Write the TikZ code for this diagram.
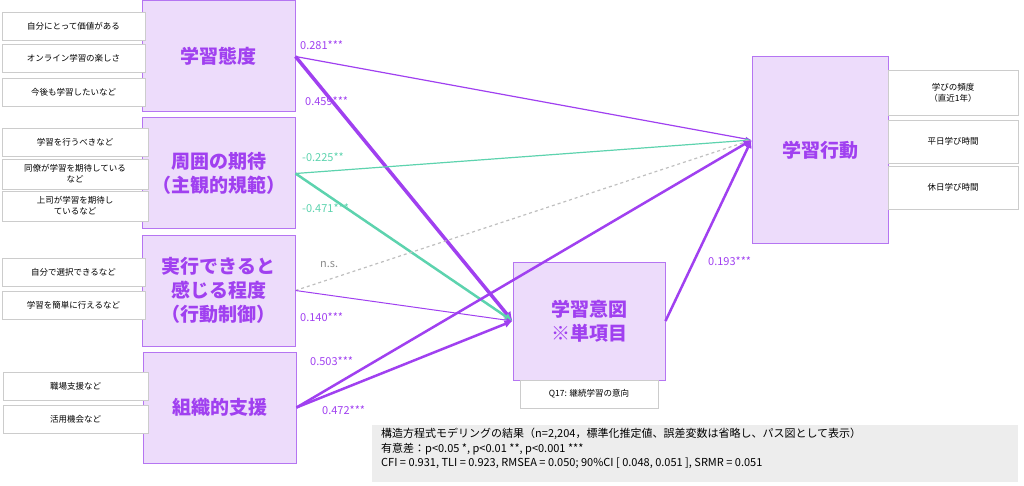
\documentclass[tikz,border=0pt]{standalone}
\usepackage{fontspec}
\setmainfont{Noto Sans CJK JP}
\newfontfamily\jpbold[BoldFont={Noto Sans CJK JP Bold}]{Noto Sans CJK JP}
\usetikzlibrary{arrows.meta, positioning}
\definecolor{vio}{HTML}{A040F0}
\definecolor{lav}{HTML}{EDDCFB}
\definecolor{lavline}{HTML}{B575F2}
\definecolor{teal}{HTML}{5DD3AE}
\tikzset{
  factor/.style={draw=lavline,fill=lav,line width=1pt,minimum width=153pt,minimum height=111pt,
    font=\fontsize{19}{24}\selectfont\bfseries,text=vio,align=center},
  item/.style={draw=black!20,fill=white,minimum width=143pt,minimum height=28pt,
    font=\fontsize{8.5}{11}\selectfont,align=center,inner sep=1pt},
  coef/.style={font=\fontsize{11}{13}\selectfont,text=vio,anchor=south west,inner sep=0pt},
  path/.style={-{Latex[length=7pt,width=7pt]},vio},
}
\begin{document}
\begin{tikzpicture}[x=1pt,y=-1pt,>=latex]
    \useasboundingbox (0,0) rectangle (1024,486);
    % factors
    \node[factor] (att) at (218.5,56.5) {学習態度};
    \node[factor] (norm) at (218.5,173.5) {周囲の期待\\（主観的規範）};
    \node[factor] (ctrl) at (218.5,290.5) {実行できると\\感じる程度\\（行動制御）};
    \node[factor] (supp) at (219.5,407.5) {組織的支援};
    \node[factor,minimum width=152pt,minimum height=118pt] (intent) at (589,321) {学習意図\\※単項目};
    \node[factor,minimum width=136pt,minimum height=186pt] (act) at (820,150) {学習行動};
    \node[item,minimum width=138pt] (q17) at (589,394) {Q17: 継続学習の意向};
    % items
    \node[item] (a1) at (73.5,26) {自分にとって価値がある};
    \node[item] (a2) at (73.5,58.5) {オンライン学習の楽しさ};
    \node[item] (a3) at (73.5,92) {今後も学習したいなど};
    \node[item,minimum width=146pt] (n1) at (75,142) {学習を行うべきなど};
    \node[item,minimum width=146pt,minimum height=30pt] (n2) at (75,174) {同僚が学習を期待している\\など};
    \node[item,minimum width=146pt,minimum height=30pt] (n3) at (75,206) {上司が学習を期待し\\ているなど};
    \node[item] (c1) at (73.5,272.5) {自分で選択できるなど};
    \node[item] (c2) at (73.5,305) {学習を簡単に行えるなど};
    \node[item,minimum width=145pt] (s1) at (75.5,386.5) {職場支援など};
    \node[item,minimum width=145pt] (s2) at (75.5,419.5) {活用機会など};
    \node[item,minimum width=130pt,minimum height=45pt] (b1) at (953,92.5) {学びの頻度\\（直近1年）};
    \node[item,minimum width=130pt,minimum height=43pt] (b2) at (953,141.5) {平日学び時間};
    \node[item,minimum width=130pt,minimum height=43pt] (b3) at (953,187.5) {休日学び時間};
    % paths
    \coordinate (actin) at ([yshift=10pt]act.west);
    \coordinate (intin) at (intent.west);
    \draw[vio,line width=1.2pt,-{Latex[length=6pt]}] (att.east) -- (actin);
    \draw[vio,line width=3.5pt,-{Latex[length=9pt,width=10pt]}] (att.east) -- (intin);
    \draw[teal,line width=1.2pt,-{Latex[length=6pt]}] (norm.east) -- (actin);
    \draw[teal,line width=2.5pt,-{Latex[length=8pt,width=8pt]}] (norm.east) -- (intin);
    \draw[black!25,line width=1.2pt,dashed,-{Latex[length=6pt]}] (ctrl.east) -- (actin);
    \draw[vio,line width=1pt,-{Latex[length=6pt]}] (ctrl.east) -- (intin);
    \draw[vio,line width=2.5pt,-{Latex[length=8pt,width=8pt]}] (supp.east) -- (actin);
    \draw[vio,line width=2.5pt,-{Latex[length=8pt,width=8pt]}] (supp.east) -- (intin);
    \draw[vio,line width=2.5pt,-{Latex[length=8pt,width=8pt]}] (intent.east) -- (actin);
    % coefficients
    \node[coef] (k1) at (300,50) {0.281***};
    \node[coef] (k2) at (305,106) {0.459***};
    \node[coef,text=teal] (k3) at (302,162) {-0.225**};
    \node[coef,text=teal] (k4) at (302,213) {-0.471***};
    \node[coef,text=black!45] (k5) at (320,268) {n.s.};
    \node[coef] (k6) at (300,322) {0.140***};
    \node[coef] (k7) at (310,366) {0.503***};
    \node[coef] (k8) at (322,415) {0.472***};
    \node[coef] (k9) at (708,266) {0.193***};
    % note
    \node[fill=black!7,minimum width=646pt,minimum height=57pt,anchor=north west,inner sep=0pt] (notebox) at (372,425) {};
    \node[anchor=north west,align=left,font=\fontsize{11}{14.5}\selectfont,inner sep=0pt] (note) at (381,428)
      {構造方程式モデリングの結果（n=2,204，標準化推定値、誤差変数は省略し、パス図として表示）\\
       有意差：p<0.05 *, p<0.01 **, p<0.001 ***\\
       CFI = 0.931, TLI = 0.923, RMSEA = 0.050; 90\%CI [ 0.048, 0.051 ], SRMR = 0.051};
\end{tikzpicture}
\end{document}
